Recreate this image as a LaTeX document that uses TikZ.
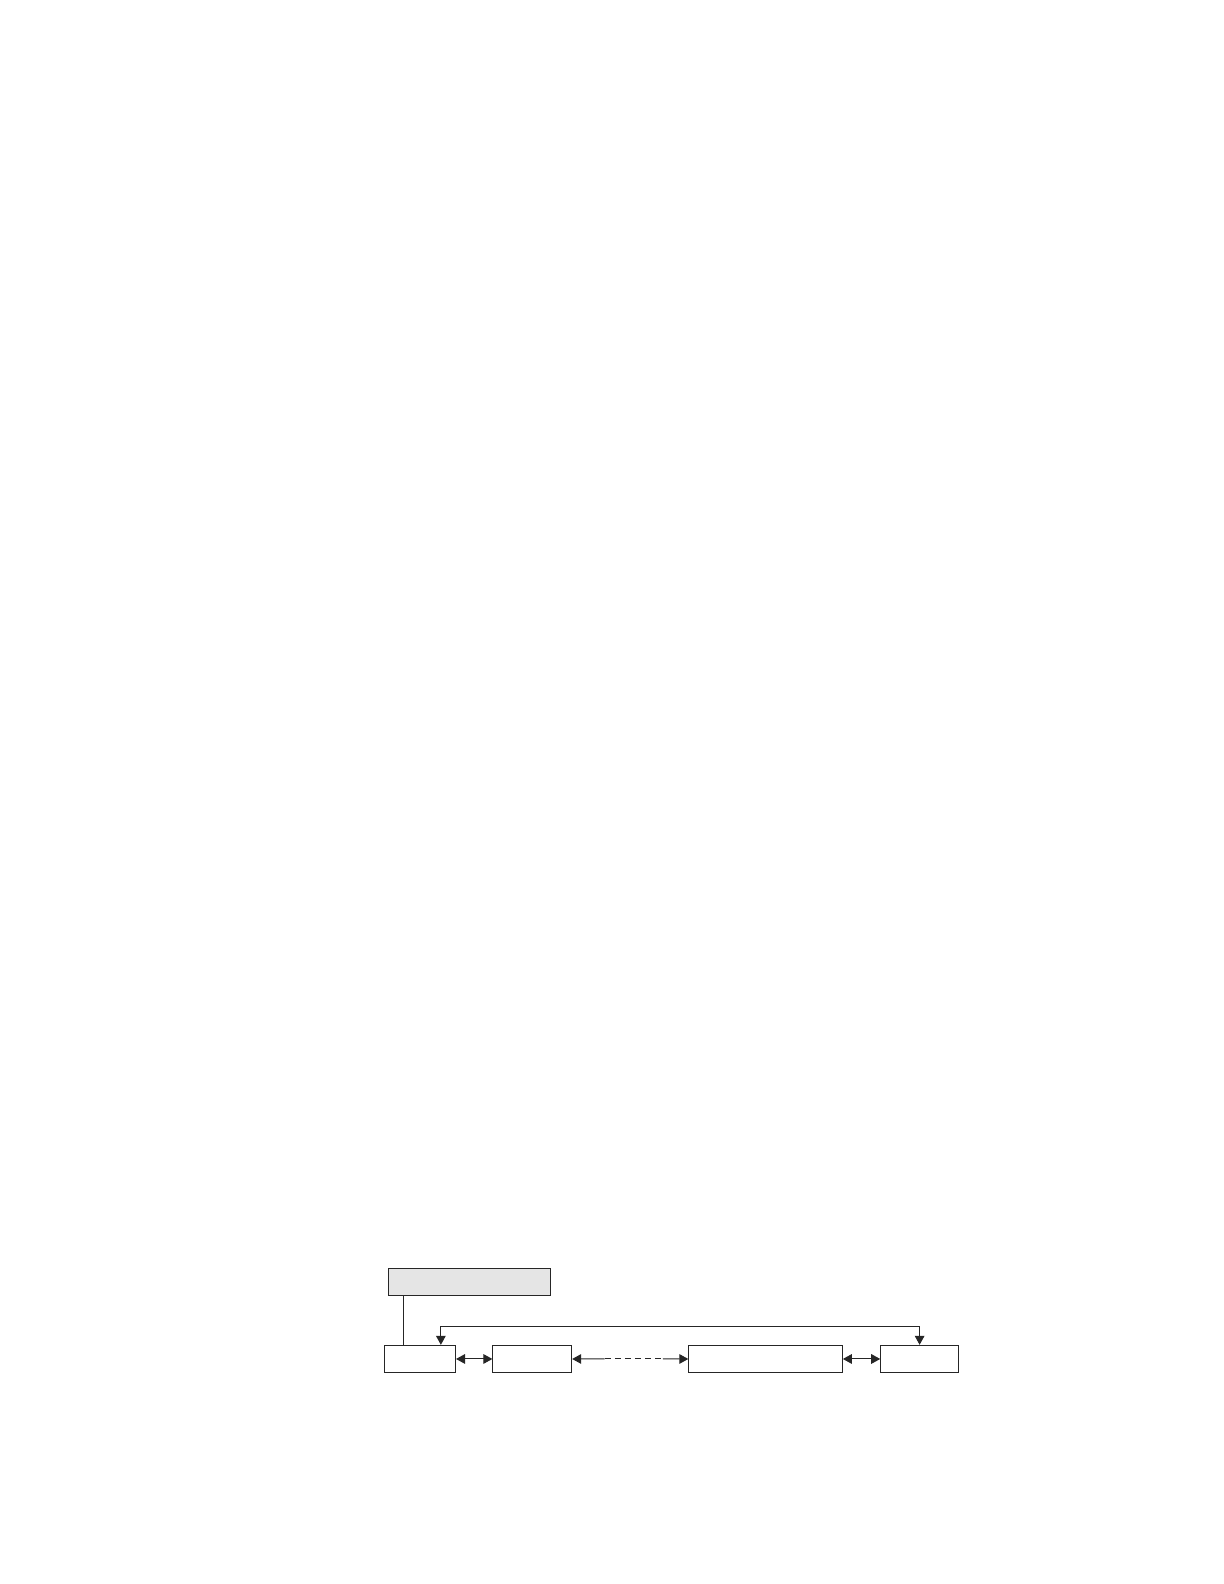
\documentclass[tikz,border=0pt]{standalone}
\usepackage{tikz}
\usetikzlibrary{arrows.meta,calc}

\begin{document}
\begin{tikzpicture}[
		x=0.505bp, y=-0.505bp,
		line width=0.5bp, draw=black!85,
		block/.style={draw=black!85, rectangle, inner sep=0pt, minimum height=27*0.505bp},
		block-head/.style={block, fill=black!10},
		link/.style={{Triangle[length=4.5bp,width=4.8bp]}-{Triangle[length=4.5bp,width=4.8bp]}},
		half-link/.style={-{Triangle[length=4.5bp,width=4.8bp]}},
		]

		\def\rowy{1345.5}
		\def\bw{0.505bp}

		\useasboundingbox (0bp,0bp) rectangle (612bp,-792bp);

		\node[block-head, minimum width=160*\bw] (head) at (465,1269.5) {};

		\node[block, minimum width=70*\bw]  (first)  at (416,\rowy) {};
		\node[block, minimum width=78*\bw]  (second) at (527,\rowy) {};
		\node[block, minimum width=152*\bw] (middle) at (758,\rowy) {};
		\node[block, minimum width=77*\bw]  (last)   at (910.5,\rowy) {};

		% head to first
		\draw ($(head.south west)+(15,0)$) coordinate (h1) -- (h1 |- first.north);

		% wrap around
		\draw[link] ($(first.north west)+(56,0)$) -- ++(0,-18) -| (last.north);

		% neighbours
		\draw[link] (first) -- (second);
		\draw[link] (middle) -- (last);

		% gap
		\coordinate (gap1) at ($(second.east)!0.28!(middle.west)$);
		\coordinate (gap2) at ($(second.east)!0.78!(middle.west)$);
		\draw[half-link] (gap1) -- (second.east);
		\draw[dash pattern=on 6*\bw off 4*\bw] (gap1) -- (gap2);
		\draw[half-link] (gap2) -- (middle.west);

	\end{tikzpicture}
\end{document}
